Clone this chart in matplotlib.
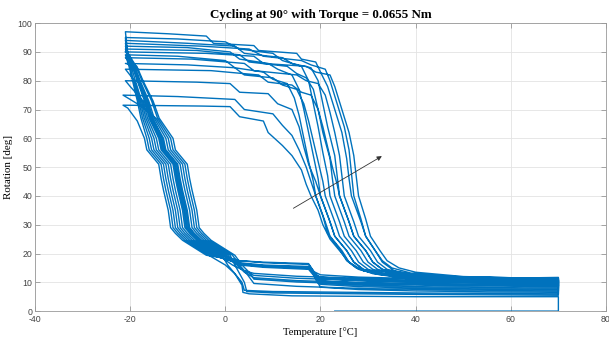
import matplotlib
matplotlib.use("Agg")
import matplotlib.pyplot as plt

plt.rcParams['axes.unicode_minus'] = False

# first run: starts at 0 deg, heated to 70 C, then cooled down
init_T = [23, 70, 70, 40, 14, 5, 3.7, 3.5, 2, 0.5, -0.7, -3.2, -5.7, -7.2, -8.2, -8.7, -9.7,
          -10.2, -10.7, -13.2, -13.7, -15.8, -16.8, -18.4, -19.4, -20.5, -20.8, -21]
init_R = [0, 0, 5, 5, 5.3, 6, 6.5, 9, 13, 16, 19.4, 22, 24.6, 27, 29, 35, 42,
          46, 51, 56, 60, 67, 73, 80, 85, 89, 94, 97]

# heating branches (-21 C -> 70 C), one list per cycle
heat_T = [
    [-21, -12, -4, -2.5, 6, 7, 15, 16, 19, 20, 21.5, 23, 24.5, 25.5, 26, 26.5, 28.5, 29.5, 31.5, 33, 35.5, 40, 50, 60, 70],
    [-21, -10, 0, 3, 10, 12, 16, 17.5, 18.5, 19.5, 20.5, 21.5, 22, 24, 25, 27.5, 29, 31, 35, 45, 58, 70],
    [-21, -8, 2, 4, 12, 14, 18, 19.5, 20.5, 21.5, 23, 23.5, 24, 26, 27, 29.5, 31, 33, 37, 47, 60, 70],
    [-21, -5, 5, 8, 16, 18, 21, 22, 23.5, 25, 26, 26.5, 27, 28.5, 29.5, 31.5, 33, 35, 39, 48, 60, 70],
    [-21, -8, 1, 3, 9, 11, 14, 15.5, 16.5, 17.5, 18.5, 19.5, 20, 22, 23, 25.5, 27, 29, 33, 42, 55, 70],
    [-21, -6, 3, 5, 13, 15, 17, 18.5, 19.5, 20.5, 22, 22.5, 23, 25, 26, 28.5, 30, 32, 36, 46, 58, 70],
    [-21, -4, 6, 8, 17, 19, 22, 23, 24.5, 26, 27, 27.5, 28, 29.5, 30.5, 32.5, 34, 36.5, 40, 50, 62, 70],
    [-21, -10, 0, 2, 8, 10, 13, 14.5, 15.5, 16.5, 17.5, 18.5, 19, 21, 22, 24.5, 26, 28, 32, 40, 55, 70],
    [-21, -7, 4, 6, 15, 17, 19.5, 21, 22, 23, 24, 24.5, 25, 27, 28, 30.5, 32, 34, 38, 48, 60, 70],
    [-21, -8, 2, 4, 10, 12, 15, 16.5, 17.5, 18.5, 19.5, 20.5, 21, 23, 24, 26.5, 28, 30, 34, 44, 58, 70],
    [-21, -3, 7, 9, 14, 16, 18, 19.5, 20.5, 21.5, 22.5, 23.5, 24, 26, 27, 29.5, 31, 33, 37, 47, 60, 70],
    [-21, -6, 1, 3, 9, 11, 14, 15.5, 16.5, 17.5, 19, 20, 22, 23, 25.5, 27, 29, 33, 42, 56, 70],
    [-21.5, -10, 2, 4, 10, 12, 14, 15.5, 17, 18, 19, 20.5, 21.5, 24, 25.5, 27.5, 31, 38, 52, 70],
    [-21.5, -5, 1, 3, 8, 9, 12, 14, 16, 17, 18, 19.5, 20.5, 22, 24, 26, 29, 34, 45, 58, 70],
]
heat_R = [
    [97, 96.3, 95.5, 93, 92.2, 90.5, 89.5, 87.5, 86.5, 83, 78, 70, 62, 53, 46, 40, 31, 26, 21, 17, 14, 12.5, 11.8, 11.5, 11.2],
    [95, 94.5, 93.5, 91, 89.5, 87, 85, 80, 72, 64, 55, 47, 40, 31, 26, 21, 17, 14.5, 13, 11.8, 11.3, 11.5],
    [94, 93, 92, 89.5, 88, 86, 84.5, 80, 72, 64, 54, 47, 40, 31, 26, 21, 17, 14.5, 13, 11.6, 11, 10.8],
    [93, 92, 91, 88.5, 87, 85.5, 84, 80, 72, 64, 56, 48, 40, 32, 26, 21, 17.5, 15, 13.2, 12, 11.6, 11.4],
    [92, 91.5, 90, 87.5, 86, 84, 82, 77, 70, 62, 54, 46, 40, 31, 26, 21, 17, 14.5, 13, 11.5, 11, 10.5],
    [91, 90.5, 89, 86.5, 85, 82.5, 81, 77, 70, 62, 53, 46, 40, 31, 26, 21, 17, 14.5, 12.8, 11.3, 10.8, 10.2],
    [90, 89.5, 88.5, 86, 85, 83, 82, 78, 70, 62, 54, 47, 40, 32, 26, 21, 17.5, 15, 13.5, 12, 11.5, 11.7],
    [89, 88.5, 87, 84.5, 83, 80.5, 79, 74, 68, 60, 52, 45, 40, 31, 26, 21, 17, 14.5, 12.8, 11.3, 10.7, 10],
    [88, 87.5, 86, 83.5, 82, 80, 79, 75, 69, 62, 54, 47, 40, 31, 26, 21, 17, 14.5, 13, 11.7, 11.2, 11],
    [86, 85.5, 84.5, 82, 81, 78.5, 77, 72, 66, 59, 52, 45, 40, 31, 26, 21, 17, 14.5, 12.8, 11.2, 10.6, 9.8],
    [84, 83.5, 82, 79.5, 78.5, 76, 75, 70, 64, 57, 50, 44, 40, 31, 26, 21, 17, 14.5, 12.8, 11.4, 10.8, 10.5],
    [80, 79.5, 79, 76, 75.5, 72, 70, 64, 57, 51, 45, 40, 31, 26, 21, 17, 14.5, 12.8, 11.1, 10.4, 9.5],
    [75, 74.5, 73.5, 70, 68.5, 64.5, 61, 56, 50, 45, 40, 33, 27, 21.5, 17.5, 15, 13, 11.3, 10.5, 9.8],
    [71.5, 71.2, 71, 67.5, 66, 62, 57.5, 54, 49, 44, 40, 35, 30, 25, 21, 17, 14, 12.5, 11, 10, 9],
]

# cooling branches (70 C -> -21 C), one list per cycle
cool_T = [
    [70, 55, 40, 28, 20, 18.5, 17.5, 8, 3, -3, -5.5, -8, -9.5, -10.5, -11, -12, -12.5, -13, -15.5, -16, -17.4, -18.2, -19.3, -20.1, -20.7, -21],
    [70, 50, 30, 15, 6, 4, 2.5, 0, -2.5, -5, -6.5, -7.5, -8, -9, -9.5, -10, -12.5, -13, -15.3, -16.4, -18.1, -19.2, -20.4, -21],
    [70, 55, 40, 28, 20, 18.5, 17.5, 8, 3, -1, -3.5, -6, -7.5, -8.5, -9, -10, -10.5, -11, -13.5, -14, -16, -17, -18.5, -19.5, -20.5, -21],
    [70, 50, 30, 15, 6, 4.5, 3, 1.5, -1, -3.5, -5, -6, -6.5, -7.5, -8, -8.5, -11, -11.5, -14.25, -15.5, -17.5, -18.75, -20.25, -21],
    [70, 55, 40, 28, 20, 18.5, 17.5, 8, 3, -2, -4.5, -7, -8.5, -9.5, -10, -11, -11.5, -12, -14.5, -15, -16.7, -17.6, -18.9, -19.8, -20.6, -21],
    [70, 50, 30, 15, 6, 4, 2.5, 0.5, -2, -4.5, -6, -7, -7.5, -8.5, -9, -9.5, -12, -12.5, -14.95, -16.1, -17.9, -19.05, -20.35, -21],
    [70, 40, 10, 4, 3.5, 2, 0, -3.5, -6, -8.5, -10, -11, -11.5, -12.5, -13, -13.5, -16, -16.5, -17.75, -18.5, -19.5, -20.25, -21],
    [70, 55, 40, 28, 20, 18.5, 17.5, 8, 3, -0.5, -3, -5.5, -7, -8, -8.5, -9.5, -10, -10.5, -13, -13.5, -15.65, -16.7, -18.3, -19.35, -21],
    [70, 50, 30, 15, 6, 5, 3.5, 2, -0.5, -3, -4.5, -5.5, -6, -7, -7.5, -8, -10.5, -11, -13.9, -15.2, -17.3, -18.6, -21],
    [70, 55, 40, 28, 20, 18.5, 17.5, 8, 3, -2.5, -5, -7.5, -9, -10, -10.5, -11.5, -12, -12.5, -15, -15.5, -17.05, -17.9, -19.1, -21],
    [70, 50, 30, 15, 6, 4, 1.5, -1.5, -4, -6.5, -8, -9, -9.5, -10.5, -11, -11.5, -14, -14.5, -16.35, -17.3, -20, -21],
    [70, 40, 10, 4.5, 4, 3, 2, 1, -1.5, -4, -5.5, -6.5, -7, -8, -8.5, -9, -11.5, -12, -14.6, -17.5, -20.5, -21.5],
    [70, 55, 40, 28, 20, 18.5, 17.5, 8, 3, -4, -6.5, -9, -10.5, -11.5, -12, -13, -13.5, -14, -16.5, -17, -18.5, -20.5, -21.5],
    [70, 55, 40, 28, 20, 18.5, 17.5, 8, 3, -0.2, -2.7, -5.2, -6.7, -7.7, -8.2, -9.2, -9.7, -10.2, -12.7, -13.2, -15.4, -16.5, -18.2, -19.3, -20.4, -21],
]
cool_R = [
    [9.5, 9.7, 10, 10.5, 11.3, 13.5, 15.5, 16, 16.8, 19.4, 22, 24.6, 27, 29, 35, 42, 46, 51, 56, 60, 67, 73, 80, 85, 89, 95],
    [10.5, 10.8, 11.3, 12.1, 13.1, 14, 16, 19.4, 22, 24.6, 27, 29, 35, 42, 46, 51, 56, 60, 67, 73, 80, 85, 89, 94],
    [8, 8.2, 8.5, 9, 9.8, 14, 16.2, 16.8, 17.5, 19.4, 22, 24.6, 27, 29, 35, 42, 46, 51, 56, 60, 67, 73, 80, 85, 89, 93],
    [7, 7.3, 7.8, 8.6, 9.6, 13, 16, 19.4, 22, 24.6, 27, 29, 35, 42, 46, 51, 56, 60, 67, 73, 80, 85, 89, 92],
    [10, 10.2, 10.5, 11, 11.8, 13.2, 14.8, 15.5, 16.2, 19.4, 22, 24.6, 27, 29, 35, 42, 46, 51, 56, 60, 67, 73, 80, 85, 89, 91],
    [9, 9.3, 9.8, 10.6, 11.6, 13.5, 16, 19.4, 22, 24.6, 27, 29, 35, 42, 46, 51, 56, 60, 67, 73, 80, 85, 89, 90],
    [6, 6.3, 6.8, 7.2, 10, 13, 16, 19.4, 22, 24.6, 27, 29, 35, 42, 46, 51, 56, 60, 67, 73, 80, 85, 89],
    [10.8, 11, 11.3, 11.8, 12.6, 13.8, 15, 15.6, 16.4, 19.4, 22, 24.6, 27, 29, 35, 42, 46, 51, 56, 60, 67, 73, 80, 85, 88],
    [8.5, 8.8, 9.3, 10.1, 11.1, 13.5, 16, 19.4, 22, 24.6, 27, 29, 35, 42, 46, 51, 56, 60, 67, 73, 80, 85, 86],
    [7.5, 7.7, 8, 8.5, 9.3, 13, 15.2, 15.8, 16.5, 19.4, 22, 24.6, 27, 29, 35, 42, 46, 51, 56, 60, 67, 73, 80, 84],
    [9.8, 10.1, 10.6, 11.4, 12.4, 14, 16, 19.4, 22, 24.6, 27, 29, 35, 42, 46, 51, 56, 60, 67, 73, 78, 80],
    [5.5, 5.8, 6.3, 6.8, 10, 13, 16, 19.4, 22, 24.6, 27, 29, 35, 42, 46, 51, 56, 60, 67, 71, 74, 75],
    [8.8, 9, 9.3, 9.8, 10.6, 14, 16.5, 17, 17.5, 19.4, 22, 24.6, 27, 29, 35, 42, 46, 51, 56, 60, 66, 70.5, 71.5],
    [6.5, 6.7, 7, 7.5, 8.3, 12.5, 14.5, 15.2, 16, 19.4, 22, 24.6, 27, 29, 35, 42, 46, 51, 56, 60, 67, 73, 80, 85, 89, 90],
]

arrow_tail = (14.3, 35.7)
arrow_head = (32.9, 53.8)

# stitch everything into one trace like the logged data
T_all = list(init_T)
R_all = list(init_R)
for i in range(len(heat_T)):
    T_all += heat_T[i] + cool_T[i]
    R_all += heat_R[i] + cool_R[i]

fig = plt.figure(figsize=(6.09, 3.40), dpi=100)
ax = fig.add_axes([0.0575, 0.085, 0.9375, 0.847])

ax.plot(T_all, R_all, color='#0072BD', lw=1.0)

ax.annotate('', xy=arrow_head, xytext=arrow_tail,
            arrowprops=dict(arrowstyle='-|>', mutation_scale=7, lw=0.6,
                            color='#333333', shrinkA=0, shrinkB=0))

ax.set_xlim(-40, 80)
ax.set_ylim(0, 100)
ax.set_xticks(range(-40, 81, 20))
ax.set_yticks(range(0, 101, 10))
ax.grid(True, color='#e3e3e3', lw=0.6)
ax.set_axisbelow(True)
ax.tick_params(direction='in', length=3.6, width=0.5, top=True, right=True,
               labelsize=6.3, labelcolor='#444444', color='#888888')
ax.tick_params(axis='x', pad=3)
ax.tick_params(axis='y', pad=2)
for lab in ax.get_xticklabels() + ax.get_yticklabels():
    lab.set_family('Liberation Sans')
for s in ax.spines.values():
    s.set_color('#999999')
    s.set_linewidth(0.6)

ax.set_title('Cycling at 90° with Torque = 0.0655 Nm', family='Liberation Serif',
             fontweight='bold', fontsize=9.4, pad=4)
ax.set_xlabel('Temperature [°C]', family='Liberation Serif', fontsize=7.7, labelpad=2)
ax.set_ylabel('Rotation [deg]', family='Liberation Serif', fontsize=7.9, labelpad=3)

fig.savefig('out.png', dpi=100)
